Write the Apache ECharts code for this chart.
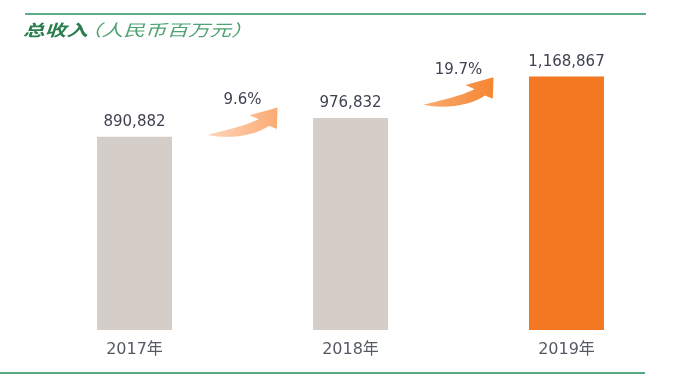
<!DOCTYPE html>
<html>
<head>
<meta charset="utf-8">
<script src="https://cdn.jsdelivr.net/npm/echarts@6/dist/echarts.min.js"></script>
<style>html,body{margin:0;padding:0;background:#fff;}#c{width:698px;height:380px;}</style>
</head>
<body>
<div id="c"></div>
<script>
var categories = ['2017年', '2018年', '2019年'];
var revenue = [890882, 976832, 1168867];
var growthLabels = ['9.6%', '19.7%'];

var FONT = '"DejaVu Sans", "Noto Sans CJK SC", sans-serif';
var CJK = '"Noto Sans CJK SC", sans-serif';
var barColors = ['#d4cdc8', '#d4cdc8', '#f47721'];
var arrowGrad = [
  ['#fdd6bc', '#fbab72'],
  ['#f9ab72', '#f58632']
];

var arrowData = growthLabels.map(function (g, i) {
  return [i, revenue[i], revenue[i + 1]];
});

function renderArrow(params, api) {
  var i = api.value(0);
  var p0 = api.coord([i, api.value(1)]);
  var p1 = api.coord([i + 1, api.value(2)]);
  var cx = (p0[0] + p1[0]) / 2;
  var cy = (p0[1] + p1[1]) / 2 - 5.5;
  var w = 70, h = 29;
  var x0 = cx - 35, y0 = cy - h / 2;
  function P(u, v) { var p = [x0 + u * w, y0 + v * h]; return p[0].toFixed(2) + ' ' + p[1].toFixed(2); }
  var d = 'M' + P(0, 0.95) +
    ' C' + P(0.3, 1.1) + ' ' + P(0.68, 0.98) + ' ' + P(0.88, 0.63) +
    ' L' + P(0.99, 0.74) +
    ' L' + P(1, 0) +
    ' L' + P(0.6, 0.27) +
    ' L' + P(0.73, 0.41) +
    ' C' + P(0.52, 0.66) + ' ' + P(0.22, 0.8) + ' ' + P(0, 0.95) + ' Z';
  var g = arrowGrad[params.dataIndex];
  return {
    type: 'group',
    children: [
      {
        type: 'path',
        shape: { pathData: d },
        style: {
          fill: new echarts.graphic.LinearGradient(0, 0, 1, 0, [
            { offset: 0, color: g[0] }, { offset: 1, color: g[1] }
          ])
        }
      },
      {
        type: 'text',
        style: {
          text: growthLabels[params.dataIndex],
          x: cx, y: cy - 22,
          align: 'center', verticalAlign: 'middle',
          fontSize: 15, fontFamily: FONT, fill: '#3f4250'
        }
      }
    ]
  };
}

var chart = echarts.init(document.getElementById('c'));
chart.setOption({
  animation: false,
  grid: { left: 26.5, right: 23.5, top: 48, bottom: 50 },
  xAxis: {
    type: 'category',
    data: categories,
    axisLine: { show: false },
    axisTick: { show: false },
    axisLabel: { margin: 12, fontSize: 16, color: '#555a63', fontFamily: FONT }
  },
  yAxis: {
    type: 'value', min: 0, max: 1300000,
    show: false, splitLine: { show: false }
  },
  graphic: [
    { type: 'line', shape: { x1: 25, y1: 14, x2: 646, y2: 14 }, style: { stroke: '#5fae85', lineWidth: 2 } },
    { type: 'line', shape: { x1: 0, y1: 373, x2: 645, y2: 373 }, style: { stroke: '#1e8c56', lineWidth: 1.5 } },
    {
      type: 'text', x: 23, y: 30, scaleX: 1.35, originX: 0,
      style: { text: '总收入', fontSize: 16, fontWeight: 'bold', fontStyle: 'italic', fill: '#2a7d4f', fontFamily: CJK, verticalAlign: 'middle' }
    },
    {
      type: 'text', x: 80, y: 30, scaleX: 1.35, originX: 0,
      style: { text: '（人民币百万元）', fontSize: 16, fontStyle: 'italic', fill: '#4ea373', fontFamily: CJK, verticalAlign: 'middle' }
    }
  ],
  series: [
    {
      type: 'bar',
      barWidth: 75,
      data: revenue.map(function (v, i) { return { value: v, itemStyle: { color: barColors[i] } }; }),
      label: {
        show: true, position: 'top', distance: 7,
        fontSize: 15, color: '#3f4250', fontFamily: FONT,
        formatter: function (p) { return p.value.toLocaleString('en-US'); }
      }
    },
    {
      type: 'custom',
      renderItem: renderArrow,
      data: arrowData,
      encode: { x: 0, y: 1 },
      z: 5
    }
  ]
});
</script>
</body>
</html>
